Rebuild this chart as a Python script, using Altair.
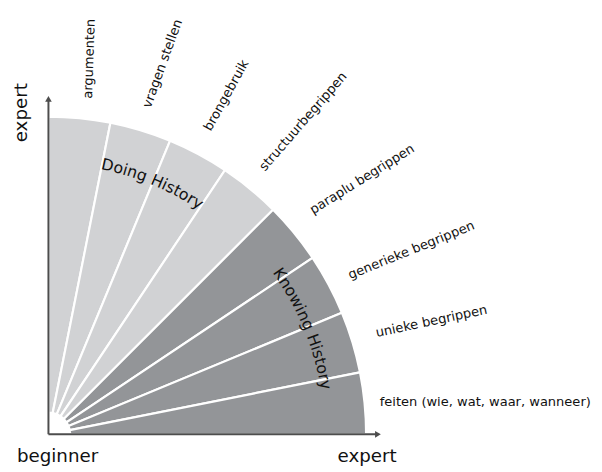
import math
import pandas as pd
import altair as alt

# ---------------- data ----------------
CATEGORIES = [
    "argumenten",
    "vragen stellen",
    "brongebruik",
    "structuurbegrippen",
    "paraplu begrippen",
    "generieke begrippen",
    "unieke begrippen",
    "feiten (wie, wat, waar, wanneer)",
]
GROUPS = ["Doing History"] * 4 + ["Knowing History"] * 4
GROUP_NAMES = ["Doing History", "Knowing History"]
AXIS_LABELS = ["expert", "beginner", "expert"]

# ---------------- style ----------------
PX = 322.0                 # pixels per unit (outer radius of the quarter circle)
OX, OY = 49.0, 437.0       # origin in page pixels
W, H = 594, 464
FONT = "DejaVu Sans"
LIGHT, DARK = "#d1d2d4", "#939598"
AXIS_COLOR = "#4d4d4d"
TEXT_COLOR = "#111111"
LABEL_SIZE = 13.2
LABEL_TILT = [88, 70, 61, 49, 32, 22, 12, 0]                  # degrees above horizontal
LABEL_POS_DEG = [7.4, 17.4, 28.2, 39.5, 50.3, 62.8, 73.5, 85.1]  # clockwise from vertical
LABEL_POS_R = [343, 346, 348, 345, 349, 344, 347, 337]          # pixels from origin
CURVE_R = [274.0 / PX, 280.0 / PX]
CURVE_SIZE = 16
CURVE_CENTER_DEG = [22.5, 67.5]
CHAR_W = {" ": .318, "D": .770, "H": .752, "K": .656, "o": .612, "i": .278,
          "n": .634, "g": .635, "s": .521, "t": .392, "r": .411, "y": .592, "w": .818}

x0 = -(OX - 8) / PX
x1 = x0 + W / PX
y1 = (OY - 8) / PX
y0 = y1 - H / PX
XS = alt.Scale(domain=[x0, x1], nice=False, zero=False)
YS = alt.Scale(domain=[y0, y1], nice=False, zero=False)

wedges = pd.DataFrame({
    "i": list(range(len(CATEGORIES))), "cat": CATEGORIES, "group": GROUPS,
    "tilt": LABEL_TILT, "pdeg": LABEL_POS_DEG, "pr": [r / PX for r in LABEL_POS_R],
})

arcs = alt.Chart(wedges).mark_arc(
    radius=PX, innerRadius=22, stroke="white", strokeWidth=2.2
).transform_calculate(
    t0="datum.i * PI / 16", t1="(datum.i + 1) * PI / 16"
).encode(
    x=alt.XDatum(0.0, scale=XS, axis=None),
    y=alt.YDatum(0.0, scale=YS, axis=None),
    theta=alt.Theta("t0:Q", scale=None),
    theta2="t1:Q",
    color=alt.Color("group:N", scale=alt.Scale(domain=GROUP_NAMES, range=[LIGHT, DARK]), legend=None),
)

labels = alt.Chart(wedges).mark_text(
    align="left", baseline="alphabetic", font=FONT, fontSize=LABEL_SIZE, color=TEXT_COLOR
).transform_calculate(
    px="datum.pr * sin(datum.pdeg * PI / 180)",
    py="datum.pr * cos(datum.pdeg * PI / 180)",
    rot="(360 - datum.tilt) % 360",
).encode(
    x=alt.X("px:Q", scale=XS, axis=None),
    y=alt.Y("py:Q", scale=YS, axis=None),
    angle=alt.Angle("rot:Q", scale=None),
    text="cat:N",
)

# curved group titles, one character at a time along an arc
rows = []
for name, cdeg, rr in zip(GROUP_NAMES, CURVE_CENTER_DEG, CURVE_R):
    widths = [CHAR_W.get(c, .6) * CURVE_SIZE for c in name]
    total = sum(widths)
    s = 0.0
    for ch, w in zip(name, widths):
        mid = s + w / 2 - total / 2
        s += w
        phi = math.radians(cdeg) + mid / (rr * PX)
        rows.append({"ch": ch, "x": rr * math.sin(phi), "y": rr * math.cos(phi),
                     "rot": math.degrees(phi) % 360})
curved = pd.DataFrame(rows)
curve_text = alt.Chart(curved).mark_text(
    align="center", baseline="alphabetic", font=FONT, fontSize=CURVE_SIZE, color=TEXT_COLOR
).encode(
    x=alt.X("x:Q", scale=XS, axis=None),
    y=alt.Y("y:Q", scale=YS, axis=None),
    angle=alt.Angle("rot:Q", scale=None),
    text="ch:N",
)

# axes with arrows
V_TOP = (OY - 99) / PX
H_END = (381 - OX) / PX
one = wedges.head(1)
vline = alt.Chart(one).mark_rule(color=AXIS_COLOR, strokeWidth=2).encode(
    x=alt.XDatum(0.0, scale=XS, axis=None),
    y=alt.YDatum(0.0, scale=YS, axis=None),
    y2=alt.Y2Datum(V_TOP),
)
hline = alt.Chart(one).mark_rule(color=AXIS_COLOR, strokeWidth=2).encode(
    y=alt.YDatum(0.0, scale=YS, axis=None),
    x=alt.XDatum(0.0, scale=XS, axis=None),
    x2=alt.X2Datum(H_END),
)
up_arrow = alt.Chart(one).mark_point(
    shape="triangle-up", filled=True, color=AXIS_COLOR, size=45, opacity=1
).encode(
    x=alt.XDatum(0.0, scale=XS, axis=None),
    y=alt.YDatum(V_TOP + 2 / PX, scale=YS, axis=None),
)
right_arrow = alt.Chart(one).mark_point(
    shape="triangle-right", filled=True, color=AXIS_COLOR, size=45, opacity=1
).encode(
    x=alt.XDatum(H_END + 2 / PX, scale=XS, axis=None),
    y=alt.YDatum(0.0, scale=YS, axis=None),
)

ylab = alt.Chart(one).mark_text(
    align="center", baseline="alphabetic", angle=270, font=FONT, fontSize=18.5, color=TEXT_COLOR
).encode(
    x=alt.XDatum((27 - OX) / PX, scale=XS, axis=None),
    y=alt.YDatum((OY - 111) / PX, scale=YS, axis=None),
    text=alt.value(AXIS_LABELS[0]),
)
beg = alt.Chart(one).mark_text(
    align="left", baseline="alphabetic", font=FONT, fontSize=18.5, color=TEXT_COLOR
).encode(
    x=alt.XDatum((17 - OX) / PX, scale=XS, axis=None),
    y=alt.YDatum((OY - 465) / PX, scale=YS, axis=None),
    text=alt.value(AXIS_LABELS[1]),
)
exp_ = alt.Chart(one).mark_text(
    align="center", baseline="alphabetic", font=FONT, fontSize=18.5, color=TEXT_COLOR
).encode(
    x=alt.XDatum((372 - OX) / PX, scale=XS, axis=None),
    y=alt.YDatum((OY - 465) / PX, scale=YS, axis=None),
    text=alt.value(AXIS_LABELS[2]),
)

chart = alt.layer(
    arcs, labels, curve_text, vline, hline, up_arrow, right_arrow, ylab, beg, exp_
).properties(
    width=W, height=H, padding=0,
    autosize=alt.AutoSizeParams(type="none"),
    background="white",
).configure_view(stroke=None)

chart.save("out.html", embed_options={"renderer": "svg", "actions": False})
